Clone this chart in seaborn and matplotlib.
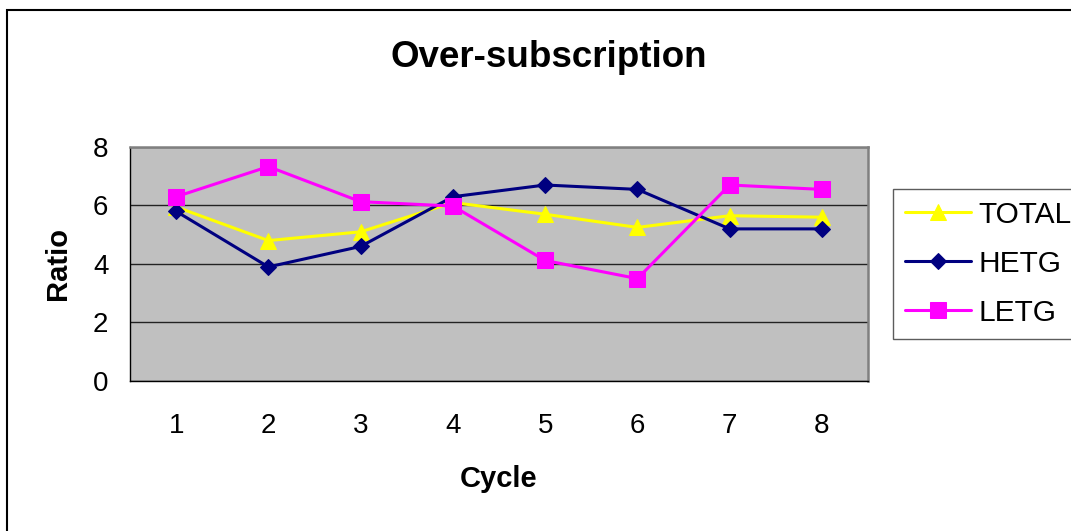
import pandas as pd
import matplotlib
matplotlib.use("Agg")
import matplotlib.pyplot as plt
import seaborn as sns
from matplotlib.patches import Rectangle

cycles = [1, 2, 3, 4, 5, 6, 7, 8]
total = [5.95, 4.8, 5.1, 6.1, 5.7, 5.25, 5.65, 5.6]
hetg = [5.8, 3.9, 4.6, 6.3, 6.7, 6.55, 5.2, 5.2]
letg = [6.3, 7.33, 6.13, 5.98, 4.12, 3.5, 6.7, 6.55]
series = ["TOTAL", "HETG", "LETG"]
colors = {"TOTAL": "#FFFF00", "HETG": "#000080", "LETG": "#FF00FF"}
markers = {"TOTAL": "^", "HETG": "D", "LETG": "s"}
msizes = {"TOTAL": 12, "HETG": 8.5, "LETG": 11.5}

df = pd.DataFrame({"Cycle": cycles * 3,
                   "Ratio": total + hetg + letg,
                   "series": [s for s in series for _ in cycles]})

sns.set_style("white")
plt.rcParams['font.family'] = ['Liberation Sans', 'DejaVu Sans']
plt.rcParams['text.color'] = 'black'
plt.rcParams['axes.labelcolor'] = 'black'
plt.rcParams['xtick.color'] = 'black'
plt.rcParams['ytick.color'] = 'black'

fig = plt.figure(figsize=(10.71, 5.31), dpi=100)
ax = fig.add_axes([0.1214, 0.2825, 0.6891, 0.4407])
ax.set_facecolor("#C0C0C0")

for s in series:
    sub = df[df.series == s]
    sns.lineplot(data=sub, x="Cycle", y="Ratio", ax=ax, color=colors[s],
                 marker=markers[s], markersize=msizes[s],
                 markeredgecolor=colors[s], linewidth=2.2, label=s)

ax.set_xlim(0.5, 8.5)
ax.set_ylim(0, 8)
ax.set_yticks([0, 2, 4, 6, 8])
ax.set_xticks(cycles)
ax.set_xticks([c - 0.5 for c in cycles] + [8.5], minor=True)
ax.tick_params(axis="x", which="major", length=0, labelsize=20, pad=23)
ax.tick_params(axis="x", which="minor", length=6, width=1, color="black", direction="out")
ax.tick_params(axis="y", length=6.5, width=1, color="black", direction="out", labelsize=20, pad=9)
ax.yaxis.grid(True, color="#222222", linewidth=1)
ax.set_axisbelow(True)
for side in ["top", "right"]:
    ax.spines[side].set_color("#808080")
    ax.spines[side].set_linewidth(1.8)
for side in ["left", "bottom"]:
    ax.spines[side].set_color("black")
    ax.spines[side].set_linewidth(1)

ax.set_xlabel("Cycle", fontsize=21, fontweight="bold", labelpad=19)
ax.set_ylabel("Ratio", fontsize=21, fontweight="bold", labelpad=15)
fig.text(0.512, 0.891, "Over-subscription", ha="center", va="center",
         fontsize=26.5, fontweight="bold")

leg = ax.legend(loc="upper left", bbox_to_anchor=(0.8338, 0.6441),
                bbox_transform=fig.transFigure, fontsize=21.5,
                frameon=True, fancybox=False, edgecolor="#333333",
                handlelength=2.2, borderpad=0.4, labelspacing=0.7,
                handletextpad=0.25, borderaxespad=0)
leg.get_frame().set_linewidth(1)

fig.patches.append(Rectangle((7 / 1071, -0.2), 2, 0.2 + 1 - 10 / 531,
                             transform=fig.transFigure, fill=False,
                             edgecolor="black", linewidth=1.5))

fig.savefig("out.png", dpi=100)
